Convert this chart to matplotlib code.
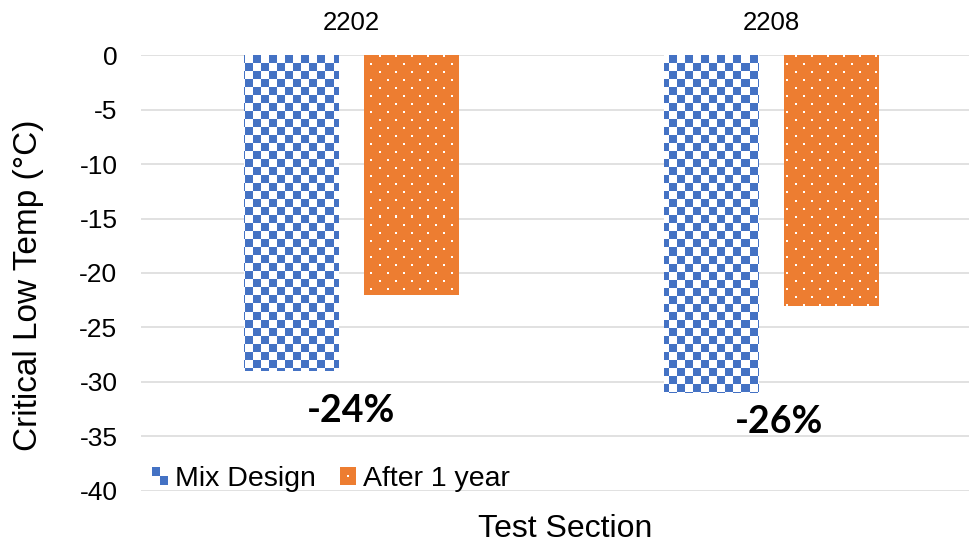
import numpy as np
import matplotlib
matplotlib.use("Agg")
import matplotlib.pyplot as plt
from matplotlib.patches import Rectangle, Patch
from matplotlib.legend_handler import HandlerBase

# ---- data ----
sections = ["2202", "2208"]
mix_design = [-29, -31]
after_1_year = [-22, -23]
series_names = ["Mix Design", "After 1 year"]
y_ticks = [0, -5, -10, -15, -20, -25, -30, -35, -40]

BLUE = "#4472C4"
ORANGE = "#ED7D31"
GRID = "#D9D9D9"
FONT = "Liberation Sans"
plt.rcParams["axes.unicode_minus"] = False

W, H, DPI = 970, 544, 100
fig = plt.figure(figsize=(W / DPI, H / DPI), dpi=DPI)

# axes box in pixels (right edge runs past the canvas)
ax_l, ax_r, ax_t, ax_b = 141, 981, 55.5, 490.5
ax = fig.add_axes([ax_l / W, 1 - ax_b / H, (ax_r - ax_l) / W, (ax_b - ax_t) / H])

x = np.arange(len(sections))
width = 0.224
off = 0.142
ax.set_xlim(-0.5, 1.5)
ax.set_ylim(-40, 0)

bars_mix = ax.bar(x - off, mix_design, width, color=BLUE, linewidth=0, zorder=2)
bars_aft = ax.bar(x + off, after_1_year, width, color=ORANGE, linewidth=0, zorder=2)

# pixel-level fill patterns covering the whole axes, clipped to each bar
ph, pw = int(round(ax_b - ax_t)), int(round(ax_r - ax_l))
ii, jj = np.mgrid[0:ph, 0:pw]


def rgb(hexcol):
    return np.array(matplotlib.colors.to_rgb(hexcol))


checker = np.ones((ph, pw, 3))
mask = ((ii // 8) + (jj // 8)) % 2 == 0
checker[mask] = rgb(BLUE)

dots = np.ones((ph, pw, 3)) * rgb(ORANGE)
shift = 8 * ((ii // 8) % 2)
dmask = ((ii % 8) < 2) & (((jj + shift + 3) % 16) < 2)
dots[dmask] = 1.0

extent = (-0.5, 1.5, -40, 0)
for bars, img in ((bars_mix, checker), (bars_aft, dots)):
    for b in bars:
        im = ax.imshow(img, extent=extent, origin="upper", aspect="auto",
                       interpolation="nearest", zorder=3)
        im.set_clip_path(b)
ax.set_xlim(-0.5, 1.5)
ax.set_ylim(-40, 0)

# change in critical low temperature magnitude, labelled under each pair
label_y = [-33.7, -34.7]
label_dx = [0.0, 0.02]
for i in range(len(sections)):
    pct = (abs(after_1_year[i]) - abs(mix_design[i])) / abs(mix_design[i]) * 100
    ax.text(x[i] + label_dx[i], label_y[i], f"{pct:.0f}%", ha="center",
            va="baseline", fontsize=27, fontweight="bold", family="Lato",
            zorder=4)

# axes styling
for s in ax.spines.values():
    s.set_visible(False)
ax.set_yticks(y_ticks)
ax.yaxis.grid(True, color=GRID, linewidth=1.1, zorder=0)
ax.set_axisbelow(True)
ax.tick_params(axis="y", length=0, pad=17, labelsize=19)
ax.set_xticks(x)
ax.set_xticklabels(sections)
ax.xaxis.tick_top()
ax.tick_params(axis="x", length=0, pad=15, labelsize=18.5)
for lab in ax.get_xticklabels() + ax.get_yticklabels():
    lab.set_family(FONT)

ax.set_xlabel("Test Section", fontsize=23, family=FONT)
ax.xaxis.set_label_position("bottom")
ax.xaxis.set_label_coords(0.505, (ax_b - 514) / (ax_b - ax_t))
ax.set_ylabel("Critical Low Temp (°C)", fontsize=24, family=FONT)
ax.yaxis.set_label_coords((44 - ax_l) / (ax_r - ax_l), (ax_b - 285) / (ax_b - ax_t))


# legend keys showing the fill patterns
class CheckerKey(HandlerBase):
    def create_artists(self, legend, orig_handle, xd, yd, w, h, fs, trans):
        hw, hh = w / 2, h / 2
        return [
            Rectangle((-xd, -yd + hh), hw, hh, color=BLUE, lw=0, transform=trans),
            Rectangle((-xd + hw, -yd), hw, hh, color=BLUE, lw=0, transform=trans),
        ]


class DotKey(HandlerBase):
    def create_artists(self, legend, orig_handle, xd, yd, w, h, fs, trans):
        s = w / 8
        return [
            Rectangle((-xd, -yd), w, h, color=ORANGE, lw=0, transform=trans),
            Rectangle((-xd + w / 2 - s / 2, -yd + h / 2 - s / 2), s, s,
                      color="white", lw=0, transform=trans),
        ]


h_mix = Patch(color=BLUE)
h_aft = Patch(color=ORANGE)
leg = fig.legend([h_mix, h_aft], series_names, loc="center left",
                 bbox_to_anchor=(152 / W, 1 - 479 / H), ncol=2, frameon=False,
                 borderpad=0, borderaxespad=0, handlelength=0.56,
                 handleheight=0.56, handletextpad=0.24, columnspacing=0.85,
                 prop={"family": FONT, "size": 20.5},
                 handler_map={h_mix: CheckerKey(), h_aft: DotKey()})

fig.savefig("out.png", dpi=DPI)
